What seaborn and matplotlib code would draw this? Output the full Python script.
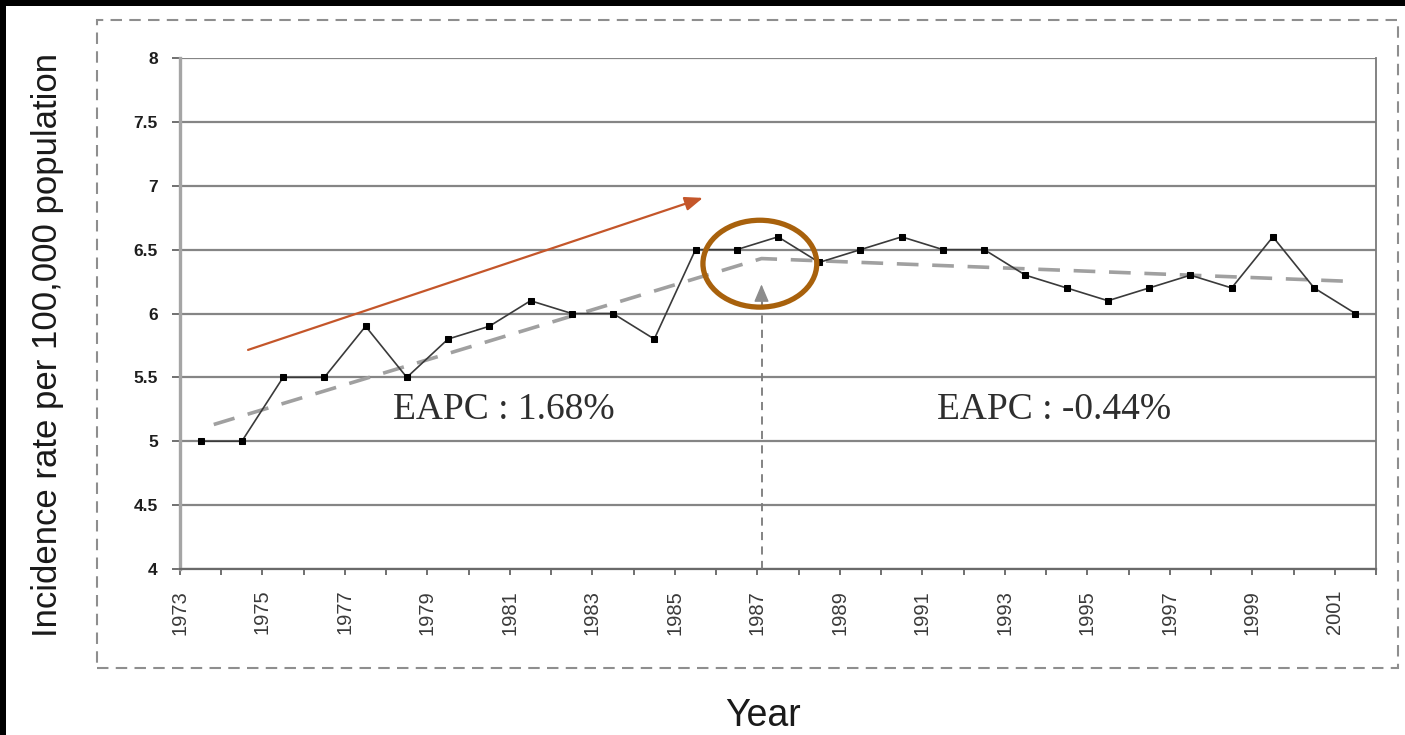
import numpy as np
import matplotlib
matplotlib.use("Agg")
import matplotlib.pyplot as plt
from matplotlib.patches import Ellipse, Rectangle
import seaborn as sns

# Annual incidence (per 100,000 population)
years = list(range(1973, 2002))
incidence = [5.0, 5.0, 5.5, 5.5, 5.9, 5.5, 5.8, 5.9, 6.1, 6.0,
             6.0, 5.8, 6.5, 6.5, 6.6, 6.4, 6.5, 6.6, 6.5, 6.5,
             6.3, 6.2, 6.1, 6.2, 6.3, 6.2, 6.6, 6.2, 6.0]

# Joinpoint trend: start, joinpoint, end
trend_years = [1973, 1986.6, 2001]
trend_values = [5.1, 6.43, 6.25]

eapc_labels = ["EAPC : 1.68%", "EAPC : -0.44%"]
y_ticks = [4, 4.5, 5, 5.5, 6, 6.5, 7, 7.5, 8]

sns.set_theme(style="white")
sans = ["Liberation Sans", "DejaVu Sans"]
plt.rcParams["font.family"] = sans

W, H = 1405, 735
fig = plt.figure(figsize=(W / 100, H / 100), dpi=100)
fig.patch.set_facecolor("white")
ax = fig.add_axes([180 / W, 1 - 569 / H, (1376 - 180) / W, (569 - 58) / H])


def pos(year):
    """Category position of a year (points sit mid-category)."""
    return (year - years[0]) + 0.5


x = np.array([pos(y) for y in years])
tx = np.array([pos(y) for y in trend_years])

# gridlines
for v in y_ticks:
    ax.axhline(v, color="#858585", lw=1.6, zorder=1)

# trend line
sns.lineplot(x=tx, y=trend_values, ax=ax, color="#a0a0a0", lw=2.6,
             linestyle=(6.0, (6.0, 3.8)), sort=False, zorder=2)

# observed rates
sns.lineplot(x=x, y=incidence, ax=ax, color="#3a3a3a", lw=1.2,
             marker="s", markersize=4.6, markerfacecolor="black",
             markeredgecolor="black", sort=False, zorder=4)

# joinpoint marker: dashed vertical with arrowhead
jx = pos(trend_years[1])
ax.plot([jx, jx], [4.0, 6.12], color="#7a7a7a", lw=1.3,
        linestyle=(0, (4.5, 3.5)), zorder=3)
ax.annotate("", xy=(jx, 6.25), xytext=(jx, 6.10),
            arrowprops=dict(arrowstyle="-|>,head_length=0.9,head_width=0.38",
                            color="#8c8c8c", lw=1.0), zorder=3)

# EAPC annotations
ax.text((pos(years[0]) + jx) / 2 + 0.55, 5.245, eapc_labels[0],
        family=["Liberation Serif", "DejaVu Serif"], fontsize=27,
        color="#2e2e2e", ha="center", va="center", zorder=5)
ax.text((jx + pos(years[-1])) / 2 - 0.1, 5.245, eapc_labels[1],
        family=["Liberation Serif", "DejaVu Serif"], fontsize=27,
        color="#2e2e2e", ha="center", va="center", zorder=5)

# rising-trend arrow
ax.annotate("", xy=(12.68, 6.905), xytext=(1.65, 5.715),
            arrowprops=dict(arrowstyle="-|>,head_length=0.9,head_width=0.35",
                            color="#c4562a", lw=1.6, shrinkA=0, shrinkB=0),
            zorder=6)

# highlight around the joinpoint
ax.add_patch(Ellipse((jx - 0.04, 6.39), width=2.76, height=0.68,
                     fill=False, edgecolor="#a8610c", lw=3.8, zorder=7))

# axes styling
ax.set_xlim(0, len(years))
ax.set_ylim(4, 8)
ax.set_yticks(y_ticks)
ax.set_yticklabels([f"{v:g}" for v in y_ticks])
ax.set_xticks(np.arange(0, len(years), 2))
ax.set_xticklabels([str(y) for y in years[::2]], rotation=90)
ax.set_xticks(np.arange(0, len(years) + 1), minor=True)

for lab in ax.get_yticklabels():
    lab.set_fontweight("bold")
    lab.set_fontsize(12.5)
    lab.set_color("#1e1e1e")
for lab in ax.get_xticklabels():
    lab.set_fontsize(14.5)
    lab.set_color("#3a3a3a")

ax.tick_params(axis="y", which="major", direction="out", length=6,
               width=1.4, color="#707070", pad=10, left=True)
ax.tick_params(axis="x", which="both", direction="out", length=4,
               width=1.4, color="#707070", pad=11, bottom=True)

ax.spines["top"].set_visible(False)
ax.spines["left"].set_color("#a5a5a5")
ax.spines["left"].set_linewidth(2.4)
ax.spines["bottom"].set_color("#6a6a6a")
ax.spines["bottom"].set_linewidth(1.6)
ax.spines["right"].set_color("#7a7a7a")
ax.spines["right"].set_linewidth(1.3)

ax.set_xlabel("Year", fontsize=27, color="#1a1a1a")
ax.set_ylabel("Incidence rate per 100,000 population", fontsize=25,
              color="#1a1a1a")
ax.xaxis.set_label_coords((763 - 180) / 1196, (569 - 716) / 511)
ax.xaxis.label.set_verticalalignment("center")
ax.yaxis.set_label_coords((48 - 180) / 1196, (569 - 345) / 511)
ax.yaxis.label.set_verticalalignment("center")

# dashed frame around the chart
fig.patches.append(Rectangle((97 / W, 1 - 668 / H), (1398 - 97) / W,
                             (668 - 20) / H, transform=fig.transFigure,
                             fill=False, edgecolor="#8e8e8e", lw=1.5,
                             linestyle=(0, (5.5, 3.5)), zorder=0))
# dark edge strips
fig.patches.append(Rectangle((0, 1 - 6 / H), 1, 6 / H, transform=fig.transFigure,
                             facecolor="black", edgecolor="none"))
fig.patches.append(Rectangle((0, 0), 6 / W, 1, transform=fig.transFigure,
                             facecolor="black", edgecolor="none"))

fig.savefig("out.png", dpi=100, facecolor="white")
